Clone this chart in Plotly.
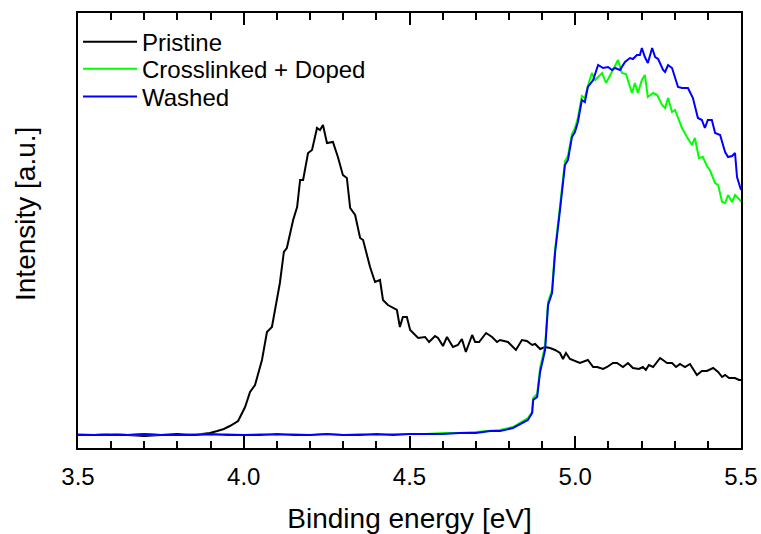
import plotly.graph_objects as go

# ---------------- data (binding energy in eV, intensity in a.u.) ----------------
pristine_e = [3.50, 3.55, 3.60, 3.65, 3.70, 3.75, 3.80, 3.85, 3.898, 3.92, 3.94, 3.958, 3.983, 4.004,
              4.019, 4.034, 4.055, 4.070, 4.085, 4.109, 4.121, 4.130, 4.149, 4.161, 4.170,
              4.179, 4.194, 4.206, 4.221, 4.230, 4.239, 4.251, 4.269, 4.284, 4.299, 4.311,
              4.321, 4.336, 4.351, 4.360, 4.381, 4.396, 4.411, 4.420, 4.435, 4.462, 4.471,
              4.480, 4.492, 4.502, 4.526, 4.547, 4.559, 4.577, 4.586, 4.601, 4.613, 4.631,
              4.646, 4.658, 4.670, 4.689, 4.698, 4.710, 4.731, 4.749, 4.764, 4.773, 4.797,
              4.821, 4.839, 4.854, 4.870, 4.879, 4.894, 4.909, 4.924, 4.939, 4.954, 4.963,
              4.972, 4.984, 4.999, 5.014, 5.038, 5.054, 5.066, 5.084, 5.096, 5.114, 5.126,
              5.144, 5.159, 5.174, 5.192, 5.204, 5.213, 5.222, 5.235, 5.256, 5.277, 5.292,
              5.304, 5.316, 5.331, 5.346, 5.367, 5.382, 5.397, 5.416, 5.431, 5.443, 5.452,
              5.464, 5.482, 5.494, 5.500]
pristine_i = [13, 13, 14, 13, 12, 13, 14, 13, 15, 17, 19, 22, 27, 41,
              56, 63, 88, 116, 121, 165, 196, 200, 228, 241, 268,
              268, 295, 298, 320, 318, 323, 305, 306, 291, 273, 270,
              240, 233, 210, 208, 181, 166, 168, 148, 143, 138, 121,
              131, 131, 118, 110, 111, 106, 112, 110, 102, 111, 101,
              103, 109, 96, 113, 106, 106, 115, 111, 106, 108, 106,
              98, 108, 107, 103, 104, 99, 101, 100, 98, 95, 89,
              95, 89, 87, 85, 88, 81, 81, 79, 81, 85, 85,
              81, 85, 80, 79, 81, 78, 83, 81, 90, 85, 85,
              81, 84, 81, 84, 73, 77, 77, 80, 76, 71, 73,
              70, 70, 68, 68]

base_e = [3.50, 3.55, 3.60, 3.65, 3.70, 3.75, 3.80, 3.85, 3.90, 3.95, 4.00, 4.05,
          4.10, 4.15, 4.20, 4.25, 4.30, 4.35, 4.40, 4.45, 4.50, 4.55, 4.60, 4.65, 4.70]
rise_e = [4.743, 4.773, 4.812, 4.839, 4.857, 4.870, 4.873, 4.885, 4.894, 4.909, 4.918,
          4.930, 4.939, 4.954, 4.969, 4.978, 4.990, 4.999, 5.008, 5.020, 5.029, 5.038]

crosslinked_e = base_e + rise_e + [
    5.050, 5.060, 5.081, 5.093, 5.111, 5.126, 5.129, 5.141, 5.153, 5.171, 5.180, 5.189,
    5.201, 5.210, 5.219, 5.235, 5.247, 5.262, 5.271, 5.280, 5.292, 5.301, 5.322, 5.337,
    5.352, 5.361, 5.373, 5.385, 5.397, 5.406, 5.422, 5.431, 5.443, 5.452, 5.461, 5.473,
    5.482, 5.497, 5.500]
crosslinked_i = [14, 13, 14, 13, 14, 13, 13, 14, 13, 14, 13, 14,
                 13, 14, 13, 14, 13, 14, 13, 14, 14, 14, 15, 15, 16] + [
    17, 18, 21, 26, 30, 36, 50, 54, 80, 102, 146,
    158, 198, 242, 287, 292, 314, 320, 330, 352, 350, 362] + [
    375, 368, 375, 365, 376, 385, 388, 375, 374, 355, 365, 355,
    368, 373, 351, 355, 353, 343, 340, 350, 336, 338, 320, 311,
    303, 310, 290, 291, 282, 278, 265, 263, 246, 245, 253, 246,
    253, 248, 246]

washed_e = base_e + rise_e + [
    5.054, 5.069, 5.084, 5.099, 5.111, 5.120, 5.135, 5.150, 5.165, 5.174, 5.186, 5.195,
    5.201, 5.210, 5.219, 5.232, 5.241, 5.250, 5.265, 5.271, 5.280, 5.292, 5.310, 5.322,
    5.340, 5.355, 5.370, 5.382, 5.391, 5.400, 5.412, 5.422, 5.437, 5.452, 5.461, 5.473,
    5.482, 5.488, 5.500]
washed_i = [13, 13, 13, 13, 14, 13, 13, 13, 14, 13, 13, 13,
            14, 13, 13, 14, 13, 13, 14, 13, 14, 14, 14, 15, 15] + [
    17, 17, 20, 25, 28, 35, 48, 51, 76, 98, 143,
    155, 195, 238, 283, 288, 311, 316, 326, 348, 346, 361] + [
    368, 383, 380, 381, 378, 380, 378, 386, 390, 389, 393, 393,
    400, 391, 385, 400, 391, 389, 378, 376, 383, 380, 361, 360,
    360, 350, 330, 328, 320, 328, 328, 315, 313, 296, 291, 292,
    295, 271, 258]

x_ticks = [3.5, 4.0, 4.5, 5.0, 5.5]
x_tick_labels = ["3.5", "4.0", "4.5", "5.0", "5.5"]

# ---------------- figure ----------------
FONT = "Liberation Sans, Arial, sans-serif"

fig = go.Figure()
fig.add_trace(go.Scatter(x=pristine_e, y=pristine_i, mode="lines", name="Pristine",
                         line=dict(color="black", width=2), legend="legend"))
fig.add_trace(go.Scatter(x=crosslinked_e, y=crosslinked_i, mode="lines",
                         name="Crosslinked + Doped",
                         line=dict(color="#00ff00", width=2), legend="legend2"))
fig.add_trace(go.Scatter(x=washed_e, y=washed_i, mode="lines", name="Washed",
                         line=dict(color="#0000ff", width=2), legend="legend3"))

leg_common = dict(x=0.0, xanchor="left", yanchor="middle",
                  bgcolor="rgba(0,0,0,0)", font=dict(size=24, family=FONT),
                  itemwidth=54)

fig.update_layout(
    width=761, height=534,
    margin=dict(l=78, r=20, t=13, b=86),
    paper_bgcolor="white", plot_bgcolor="white",
    font=dict(family=FONT, color="black", size=24),
    showlegend=True,
    legend=dict(y=0.933, **leg_common),
    legend2=dict(y=0.871, **leg_common),
    legend3=dict(y=0.807, **leg_common),
    annotations=[dict(text="Intensity [a.u.]", textangle=-90,
                      xref="paper", yref="paper", x=-0.0784, y=0.538,
                      xanchor="center", yanchor="middle", showarrow=False,
                      font=dict(size=28, family=FONT, color="black"))],
)

fig.update_xaxes(
    range=[3.5, 5.5], automargin=False,
    tickmode="array", tickvals=x_ticks, ticktext=x_tick_labels,
    ticks="inside", ticklen=12, tickwidth=2, tickcolor="black",
    ticklabelstandoff=6,
    minor=dict(ticks="inside", ticklen=7, tickwidth=2, tickcolor="black", dtick=0.1),
    showline=True, linewidth=2, linecolor="black", mirror="ticks",
    showgrid=False, zeroline=False,
    tickfont=dict(size=24, family=FONT),
    title=dict(text="Binding energy [eV]", font=dict(size=28, family=FONT), standoff=20),
)
fig.update_yaxes(
    range=[0, 435], automargin=False,
    showticklabels=False, ticks="",
    showline=True, linewidth=2, linecolor="black", mirror=True,
    showgrid=False, zeroline=False,
)

fig.write_html("out.html")
